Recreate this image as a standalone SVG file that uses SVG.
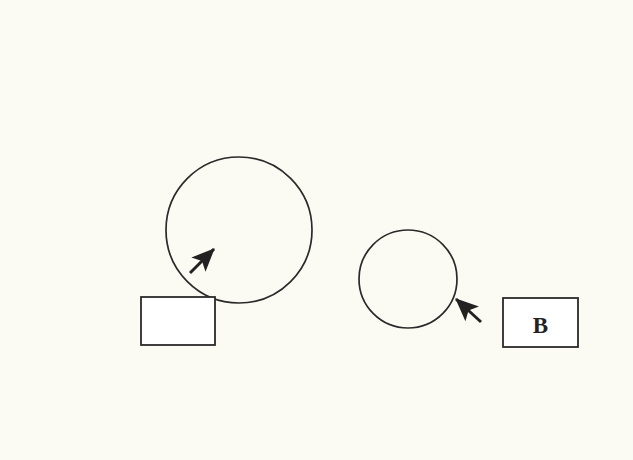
<svg xmlns="http://www.w3.org/2000/svg" width="633" height="460" viewBox="0 0 633 460">
<defs>
<style>
.shape{fill:none;stroke:#2a2a2a;stroke-width:1.7}
.box{fill:#ffffff;stroke:#2a2a2a;stroke-width:1.8}
.arrow{stroke:#222;stroke-width:3;fill:none;marker-end:url(#head)}
.lbl{font-family:"Liberation Serif",serif;font-weight:bold;font-size:23px;fill:#222;text-anchor:middle}
</style>
<marker id="head" markerUnits="userSpaceOnUse" markerWidth="24" markerHeight="24" viewBox="0 0 24 24" refX="22" refY="12" orient="auto">
<path d="M0,2 L23,12 L0,22 L5,12 Z" fill="#222"/>
</marker>
<radialGradient id="tint" cx="0.5" cy="0.5" r="0.5">
<stop offset="0" stop-color="#fbf6d2"/>
<stop offset="1" stop-color="#fdfbef"/>
</radialGradient>
</defs>
<rect width="633" height="460" fill="#fcfbf3"/>
<g id="circle-large"><circle cx="239" cy="230" r="73" fill="url(#tint)" class="shape"/></g>
<g id="circle-small"><circle cx="408" cy="279" r="49" fill="url(#tint)" class="shape"/></g>
<g id="box-a"><rect x="141" y="297" width="74" height="48" class="box"/></g>
<g id="box-b"><rect x="503" y="298" width="75" height="49" class="box"/><text x="540.5" y="333" class="lbl">B</text></g>
<g id="connectors">
<line x1="190" y1="273" x2="214" y2="249" class="arrow"/>
<line x1="481" y1="322" x2="456" y2="299" class="arrow"/>
</g>
</svg>
